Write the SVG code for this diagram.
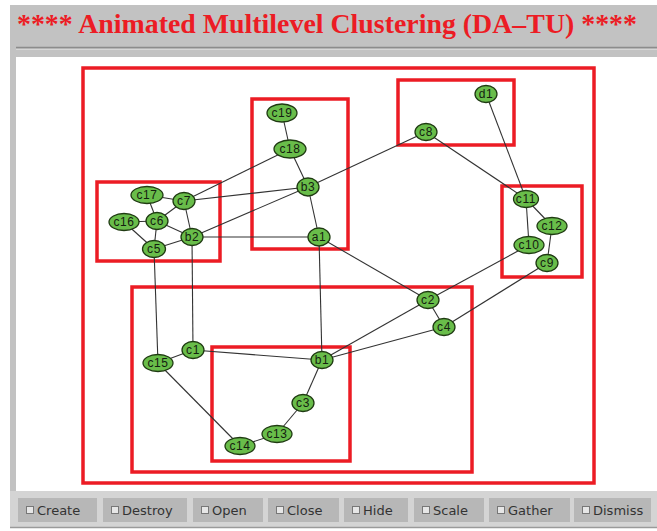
<svg xmlns="http://www.w3.org/2000/svg" width="657" height="531" viewBox="0 0 657 531">
<style>
.frame{fill:none;stroke:#ec1c24;stroke-width:3.5}
.edge{stroke:#333;stroke-width:1.1;fill:none}
.node ellipse{fill:#69bd4a;stroke:#1f3a12;stroke-width:1.3}
.node text{font-family:"Liberation Sans",Arial,sans-serif;font-size:12px;fill:#142010;text-anchor:middle;letter-spacing:0.6px}
.btn rect.b{fill:#b7b7b7}
.btn rect.c{fill:#e6e6e6;stroke:#777;stroke-width:1}
.btn text{font-family:"DejaVu Sans",sans-serif;font-size:13px;fill:#333}
</style>
<!-- window chrome -->
<rect x="0" y="0" width="657" height="531" fill="#ffffff"/>
<rect x="10" y="5" width="647" height="523" fill="#c2c2c2"/>
<line x1="16" y1="47.5" x2="657" y2="47.5" stroke="#8c8c8c" stroke-width="1.5"/>
<line x1="16" y1="49.5" x2="657" y2="49.5" stroke="#d6d6d6" stroke-width="1"/>
<rect x="16" y="57" width="641" height="434" fill="#ffffff"/>
<rect x="10" y="491" width="647" height="36" fill="#d4d4d4"/>
<line x1="10" y1="527.5" x2="657" y2="527.5" stroke="#9a9a9a" stroke-width="1.5"/>
<text x="17" y="33" font-family="'Liberation Serif','Times New Roman',serif" font-weight="bold" font-size="28" fill="#ec1c24" textLength="620" lengthAdjust="spacingAndGlyphs">**** Animated Multilevel Clustering (DA–TU) ****</text>

<!-- cluster frames -->
<g id="clusters">
<rect class="frame" x="83" y="68" width="511" height="415"/>
<rect class="frame" x="97" y="182" width="123" height="79"/>
<rect class="frame" x="252" y="99" width="96" height="150"/>
<rect class="frame" x="398" y="80" width="116" height="65"/>
<rect class="frame" x="502" y="186" width="80" height="91"/>
<rect class="frame" x="132" y="287" width="340" height="185"/>
<rect class="frame" x="212" y="347" width="138" height="114"/>
</g>

<!-- connectors -->
<g id="edges" class="edge">
<line x1="147" y1="195" x2="184" y2="201"/>
<line x1="147" y1="195" x2="157" y2="221"/>
<line x1="124" y1="222" x2="157" y2="221"/>
<line x1="124" y1="222" x2="154" y2="249"/>
<line x1="157" y1="221" x2="154" y2="249"/>
<line x1="157" y1="221" x2="184" y2="201"/>
<line x1="157" y1="221" x2="192" y2="237"/>
<line x1="184" y1="201" x2="192" y2="237"/>
<line x1="154" y1="249" x2="192" y2="237"/>
<line x1="184" y1="201" x2="290" y2="149"/>
<line x1="184" y1="201" x2="308" y2="187"/>
<line x1="192" y1="237" x2="308" y2="187"/>
<line x1="192" y1="237" x2="319" y2="237"/>
<line x1="282" y1="113" x2="290" y2="149"/>
<line x1="290" y1="149" x2="308" y2="187"/>
<line x1="308" y1="187" x2="319" y2="237"/>
<line x1="308" y1="187" x2="426" y2="132"/>
<line x1="426" y1="132" x2="526" y2="199"/>
<line x1="486" y1="94" x2="526" y2="199"/>
<line x1="526" y1="199" x2="552" y2="226"/>
<line x1="526" y1="199" x2="529" y2="245"/>
<line x1="552" y1="226" x2="547" y2="263"/>
<line x1="529" y1="245" x2="428" y2="300"/>
<line x1="547" y1="263" x2="444" y2="327"/>
<line x1="319" y1="237" x2="428" y2="300"/>
<line x1="319" y1="237" x2="322" y2="360"/>
<line x1="428" y1="300" x2="444" y2="327"/>
<line x1="428" y1="300" x2="322" y2="360"/>
<line x1="444" y1="327" x2="322" y2="360"/>
<line x1="193" y1="350" x2="322" y2="360"/>
<line x1="193" y1="350" x2="158" y2="363"/>
<line x1="192" y1="237" x2="193" y2="350"/>
<line x1="154" y1="249" x2="158" y2="363"/>
<line x1="158" y1="363" x2="240" y2="446"/>
<line x1="240" y1="446" x2="277" y2="434"/>
<line x1="277" y1="434" x2="303" y2="403"/>
<line x1="303" y1="403" x2="322" y2="360"/>
</g>

<!-- nodes -->
<g id="n-c17" class="node"><ellipse cx="147" cy="195" rx="16" ry="8.5"/><text x="147" y="199">c17</text></g>
<g id="n-c7" class="node"><ellipse cx="184" cy="201" rx="11" ry="8.5"/><text x="184" y="205">c7</text></g>
<g id="n-c16" class="node"><ellipse cx="124" cy="222" rx="15" ry="8.5"/><text x="124" y="226">c16</text></g>
<g id="n-c6" class="node"><ellipse cx="157" cy="221" rx="11" ry="8.5"/><text x="157" y="225">c6</text></g>
<g id="n-b2" class="node"><ellipse cx="192" cy="237" rx="11" ry="8.5"/><text x="192" y="241">b2</text></g>
<g id="n-c5" class="node"><ellipse cx="154" cy="249" rx="11.5" ry="8.5"/><text x="154" y="253">c5</text></g>
<g id="n-c19" class="node"><ellipse cx="282" cy="113" rx="15" ry="9"/><text x="282" y="117">c19</text></g>
<g id="n-c18" class="node"><ellipse cx="290" cy="149" rx="16" ry="9"/><text x="290" y="153">c18</text></g>
<g id="n-b3" class="node"><ellipse cx="308" cy="187" rx="11" ry="9"/><text x="308" y="191">b3</text></g>
<g id="n-a1" class="node"><ellipse cx="319" cy="237" rx="11" ry="9"/><text x="319" y="241">a1</text></g>
<g id="n-d1" class="node"><ellipse cx="486" cy="94" rx="11" ry="8.5"/><text x="486" y="98">d1</text></g>
<g id="n-c8" class="node"><ellipse cx="426" cy="132" rx="11" ry="8.5"/><text x="426" y="136">c8</text></g>
<g id="n-c11" class="node"><ellipse cx="526" cy="199" rx="12.5" ry="8.5"/><text x="526" y="203">c11</text></g>
<g id="n-c12" class="node"><ellipse cx="552" cy="226" rx="15" ry="8.5"/><text x="552" y="230">c12</text></g>
<g id="n-c10" class="node"><ellipse cx="529" cy="245" rx="15" ry="8.5"/><text x="529" y="249">c10</text></g>
<g id="n-c9" class="node"><ellipse cx="547" cy="263" rx="11" ry="8.5"/><text x="547" y="267">c9</text></g>
<g id="n-c2" class="node"><ellipse cx="428" cy="300" rx="11" ry="8.5"/><text x="428" y="304">c2</text></g>
<g id="n-c4" class="node"><ellipse cx="444" cy="327" rx="11" ry="8.5"/><text x="444" y="331">c4</text></g>
<g id="n-c15" class="node"><ellipse cx="158" cy="363" rx="15" ry="8.5"/><text x="158" y="367">c15</text></g>
<g id="n-c1" class="node"><ellipse cx="193" cy="350" rx="11" ry="8.5"/><text x="193" y="354">c1</text></g>
<g id="n-b1" class="node"><ellipse cx="322" cy="360" rx="11" ry="8.5"/><text x="322" y="364">b1</text></g>
<g id="n-c3" class="node"><ellipse cx="303" cy="403" rx="11" ry="8.5"/><text x="303" y="407">c3</text></g>
<g id="n-c13" class="node"><ellipse cx="277" cy="434" rx="15" ry="8.5"/><text x="277" y="438">c13</text></g>
<g id="n-c14" class="node"><ellipse cx="240" cy="446" rx="15" ry="8.5"/><text x="240" y="450">c14</text></g>

<!-- buttons -->
<g id="btn-create" class="btn"><rect class="b" x="18" y="498" width="79" height="24"/><rect class="c" x="26.5" y="506.5" width="7" height="7"/><text x="37" y="515">Create</text></g>
<g id="btn-destroy" class="btn"><rect class="b" x="103" y="498" width="84" height="24"/><rect class="c" x="111.5" y="506.5" width="7" height="7"/><text x="122" y="515">Destroy</text></g>
<g id="btn-open" class="btn"><rect class="b" x="193" y="498" width="70" height="24"/><rect class="c" x="201.5" y="506.5" width="7" height="7"/><text x="212" y="515">Open</text></g>
<g id="btn-close" class="btn"><rect class="b" x="268" y="498" width="71" height="24"/><rect class="c" x="276.5" y="506.5" width="7" height="7"/><text x="287" y="515">Close</text></g>
<g id="btn-hide" class="btn"><rect class="b" x="344" y="498" width="64" height="24"/><rect class="c" x="352.5" y="506.5" width="7" height="7"/><text x="363" y="515">Hide</text></g>
<g id="btn-scale" class="btn"><rect class="b" x="414" y="498" width="70" height="24"/><rect class="c" x="422.5" y="506.5" width="7" height="7"/><text x="433" y="515">Scale</text></g>
<g id="btn-gather" class="btn"><rect class="b" x="489" y="498" width="81" height="24"/><rect class="c" x="497.5" y="506.5" width="7" height="7"/><text x="508" y="515">Gather</text></g>
<g id="btn-dismiss" class="btn"><rect class="b" x="574" y="498" width="77" height="24"/><rect class="c" x="582.5" y="506.5" width="7" height="7"/><text x="593" y="515">Dismiss</text></g>
</svg>
